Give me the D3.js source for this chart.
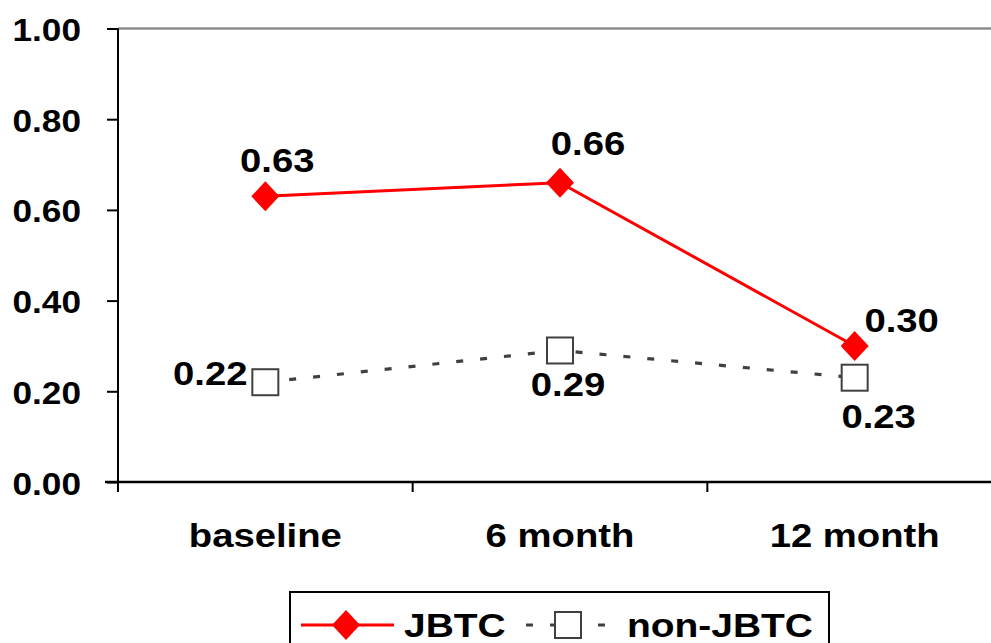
<!DOCTYPE html>
<html>
<head>
<meta charset="utf-8">
<script src="https://cdn.jsdelivr.net/npm/d3@7"></script>
<style>
  html, body { margin: 0; padding: 0; background: #fff; }
  svg { display: block; }
  text { font-family: "Liberation Sans", Arial, sans-serif; font-weight: bold; fill: #000; }
</style>
</head>
<body>
<svg id="chart" width="991" height="643"></svg>
<script>
// Chart data
const categories = ["baseline", "6 month", "12 month"];
const jbtc = [0.63, 0.66, 0.30];
const nonJbtc = [0.22, 0.29, 0.23];
const yTicks = [0, 0.2, 0.4, 0.6, 0.8, 1.0];
const seriesNames = ["JBTC", "non-JBTC"];

const svg = d3.select("#chart");
const FONT = 33;

// Scales
const x = d3.scaleBand().domain(categories).range([118, 1002]).paddingInner(0).paddingOuter(0);
const xc = d => x(d) + x.bandwidth() / 2;
const y = d3.scaleLinear().domain([0, 1]).range([482, 28.5]);

// Horizontally stretched bold lettering
function label(g, px, py, str, anchor, sx) {
  return g.append("text")
    .attr("transform", `translate(${px},${py}) scale(${sx || 1.16},1)`)
    .attr("text-anchor", anchor || "middle")
    .style("font-size", FONT + "px")
    .text(str);
}

// Top border of the plot area
svg.append("line")
  .attr("x1", 118).attr("x2", 991)
  .attr("y1", y(1)).attr("y2", y(1))
  .attr("stroke", "#8c8c8c").attr("stroke-width", 2.5);

// Y axis
const yAxis = d3.axisLeft(y).tickValues(yTicks).tickSize(11).tickFormat(d3.format(".2f"));
const gy = svg.append("g").attr("transform", "translate(118,0)").call(yAxis);
gy.select(".domain").remove();
gy.selectAll(".tick line").attr("stroke", "#000").attr("stroke-width", 2);
gy.selectAll(".tick text").remove();
gy.selectAll(".tick").each(function(d) {
  label(d3.select(this), -37, 12, d3.format(".2f")(d), "end", 1.1).style("font-size", "32px");
});
svg.append("line")
  .attr("x1", 118).attr("x2", 118)
  .attr("y1", y(1)).attr("y2", 492)
  .attr("stroke", "#000").attr("stroke-width", 2);

// X axis
svg.append("line")
  .attr("x1", 105).attr("x2", 991)
  .attr("y1", y(0)).attr("y2", y(0))
  .attr("stroke", "#000").attr("stroke-width", 2.5);
// tick marks on category boundaries
categories.forEach(c => {
  svg.append("line")
    .attr("x1", x(c)).attr("x2", x(c))
    .attr("y1", y(0)).attr("y2", y(0) + 10)
    .attr("stroke", "#000").attr("stroke-width", 2);
});
categories.forEach(c => label(svg, xc(c), 547, c));

// Lines
const line = d3.line().x((d, i) => xc(categories[i])).y(d => y(d));

svg.append("path").datum(nonJbtc)
  .attr("d", line).attr("fill", "none")
  .attr("stroke", "#404040").attr("stroke-width", 3.2)
  .attr("stroke-dasharray", "7,17");

svg.append("path").datum(jbtc)
  .attr("d", line).attr("fill", "none")
  .attr("stroke", "#ff0000").attr("stroke-width", 3);

// Markers
function square(g, cx, cy) {
  g.append("rect")
    .attr("x", cx - 13).attr("y", cy - 13)
    .attr("width", 26).attr("height", 26)
    .attr("fill", "#fff").attr("stroke", "#404040").attr("stroke-width", 2);
}
function diamond(g, cx, cy) {
  g.append("path")
    .attr("d", `M${cx},${cy - 15}L${cx + 14},${cy}L${cx},${cy + 15}L${cx - 14},${cy}Z`)
    .attr("fill", "#ff0000");
}
nonJbtc.forEach((v, i) => square(svg, xc(categories[i]), y(v)));
jbtc.forEach((v, i) => diamond(svg, xc(categories[i]), y(v)));

// Value labels, offset from each marker
const jbtcOffsets = [[12, -24], [28, -28], [47, -14]];
const nonOffsets = [[-55, 3], [8, 46], [24, 50]];
jbtc.forEach((v, i) => label(svg, xc(categories[i]) + jbtcOffsets[i][0], y(v) + jbtcOffsets[i][1], v.toFixed(2)));
nonJbtc.forEach((v, i) => label(svg, xc(categories[i]) + nonOffsets[i][0], y(v) + nonOffsets[i][1], v.toFixed(2)));

// Legend
const lg = svg.append("g");
lg.append("rect")
  .attr("x", 290).attr("y", 592).attr("width", 539).attr("height", 70)
  .attr("fill", "#fff").attr("stroke", "#000").attr("stroke-width", 2);
lg.append("line")
  .attr("x1", 301).attr("x2", 394).attr("y1", 625).attr("y2", 625)
  .attr("stroke", "#ff0000").attr("stroke-width", 3);
diamond(lg, 346, 625);
label(lg, 404, 637, seriesNames[0], "start", 1.18);
lg.append("line")
  .attr("x1", 526).attr("x2", 606).attr("y1", 625).attr("y2", 625)
  .attr("stroke", "#404040").attr("stroke-width", 3.2)
  .attr("stroke-dasharray", "7,17");
square(lg, 568, 625);
label(lg, 627, 637, seriesNames[1], "start", 1.18);
</script>
</body>
</html>
